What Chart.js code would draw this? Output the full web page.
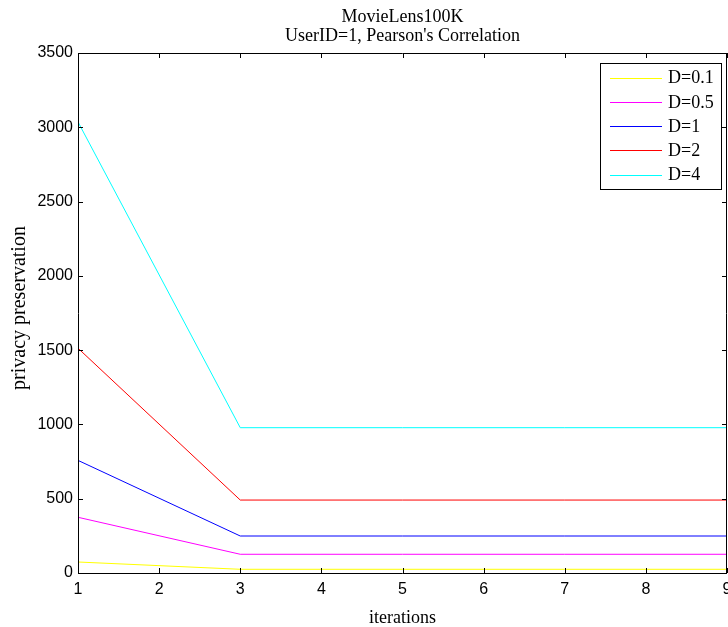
<!DOCTYPE html>
<html>
<head>
<meta charset="utf-8">
<script src="https://cdn.jsdelivr.net/npm/chart.js@4.4.0/dist/chart.umd.min.js"></script>
<style>
html,body{margin:0;padding:0;background:#fff;}
#wrap{width:728px;height:627px;position:relative;}
</style>
</head>
<body>
<div id="wrap"><canvas id="c" width="728" height="627"></canvas></div>
<script>
const titleLines = ["MovieLens100K", "UserID=1, Pearson's Correlation"];
const xLabel = "iterations";
const yLabel = "privacy preservation";
const iterations = [1, 3, 5, 7, 9];
const seriesLabels = ["D=0.1", "D=0.5", "D=1", "D=2", "D=4"];
const seriesColors = ["#ffff00", "#ff00ff", "#0000ff", "#ff0000", "#00ffff"];
const d01 = [74, 25, 25, 25, 25];
const d05 = [375, 126, 126, 126, 126];
const d1 = [758, 249, 249, 249, 249];
const d2 = [1513, 491, 491, 491, 491];
const d4 = [3036, 978, 978, 978, 978];
const seriesValues = [d01, d05, d1, d2, d4];
const xTicks = [1, 2, 3, 4, 5, 6, 7, 8, 9];
const yTicks = [0, 500, 1000, 1500, 2000, 2500, 3000, 3500];

const serif = "'Liberation Serif', 'Times New Roman', serif";
const sans = "'Liberation Sans', Arial, sans-serif";

const datasets = seriesLabels.map((lab, i) => ({
  label: lab,
  data: iterations.map((x, j) => ({x: x, y: seriesValues[i][j]})),
  borderColor: seriesColors[i],
  backgroundColor: seriesColors[i],
  borderWidth: 1,
  pointRadius: 0,
  tension: 0,
  fill: false
}));

const decor = {
  id: 'decor',
  afterDraw(chart) {
    const ctx = chart.ctx;
    const a = chart.chartArea;
    const xs = chart.scales.x, ys = chart.scales.y;
    ctx.save();
    // frame
    ctx.strokeStyle = '#000';
    ctx.lineWidth = 1;
    ctx.beginPath();
    ctx.rect(Math.round(a.left) + 0.5, Math.round(a.top) + 0.5, Math.round(a.right - a.left) - 1, Math.round(a.bottom - a.top));
    ctx.stroke();
    // ticks
    const tl = 5;
    ctx.beginPath();
    xTicks.forEach(v => {
      const px = Math.round(xs.getPixelForValue(v)) + 0.5;
      ctx.moveTo(px, a.bottom); ctx.lineTo(px, a.bottom - tl);
      ctx.moveTo(px, a.top); ctx.lineTo(px, a.top + tl);
    });
    yTicks.forEach(v => {
      const py = Math.round(ys.getPixelForValue(v)) + 0.5;
      ctx.moveTo(a.left, py); ctx.lineTo(a.left + tl, py);
      ctx.moveTo(a.right, py); ctx.lineTo(a.right - tl, py);
    });
    ctx.stroke();
    // title
    ctx.fillStyle = '#000';
    ctx.textAlign = 'center';
    ctx.textBaseline = 'alphabetic';
    ctx.font = '18px ' + serif;
    const cx = (a.left + a.right) / 2;
    ctx.fillText(titleLines[0], cx, 22);
    ctx.fillText(titleLines[1], cx, 41);
    // x label
    ctx.fillText(xLabel, cx, 623);
    // y label
    ctx.save();
    ctx.translate(25, (a.top + a.bottom) / 2 - 5);
    ctx.rotate(-Math.PI / 2);
    ctx.font = '20px ' + serif;
    ctx.fillText(yLabel, 0, 0);
    ctx.restore();
    // legend
    const lx = 600.5, ly = 63.5, lw = 121, lh = 126;
    ctx.fillStyle = '#fff';
    ctx.fillRect(lx, ly, lw, lh);
    ctx.strokeStyle = '#000';
    ctx.strokeRect(lx, ly, lw, lh);
    ctx.font = '18px ' + serif;
    ctx.textAlign = 'left';
    ctx.textBaseline = 'middle';
    chart.data.datasets.forEach((ds, i) => {
      const y = 77.5 + i * 24.3;
      ctx.strokeStyle = ds.borderColor;
      ctx.beginPath();
      ctx.moveTo(610, Math.round(y) + 0.5);
      ctx.lineTo(662, Math.round(y) + 0.5);
      ctx.stroke();
      ctx.fillStyle = '#000';
      ctx.fillText(ds.label, 668, y + 1);
    });
    ctx.restore();
  }
};

new Chart(document.getElementById('c'), {
  type: 'line',
  data: {datasets: datasets},
  options: {
    responsive: false,
    animation: false,
    events: [],
    layout: {padding: {left: 0, right: 1, top: 53, bottom: 0}},
    plugins: {legend: {display: false}, title: {display: false}, tooltip: {enabled: false}},
    scales: {
      x: {
        type: 'linear', min: 1, max: 9,
        grid: {display: false, drawTicks: false},
        border: {display: false},
        ticks: {stepSize: 1, color: '#000', font: {family: sans, size: 16}, padding: 7, maxRotation: 0, autoSkip: false,
          callback: v => String(v)},
        afterFit(s) { s.height = 54; s.paddingLeft = 0; s.paddingRight = 0; }
      },
      y: {
        type: 'linear', min: 0, max: 3500,
        grid: {display: false, drawTicks: false},
        border: {display: false},
        ticks: {stepSize: 500, color: '#000', font: {family: sans, size: 16}, padding: 5,
          callback: v => String(v)},
        afterFit(s) { s.width = 78; s.paddingTop = 0; s.paddingBottom = 0; }
      }
    }
  },
  plugins: [decor]
});
</script>
</body>
</html>
